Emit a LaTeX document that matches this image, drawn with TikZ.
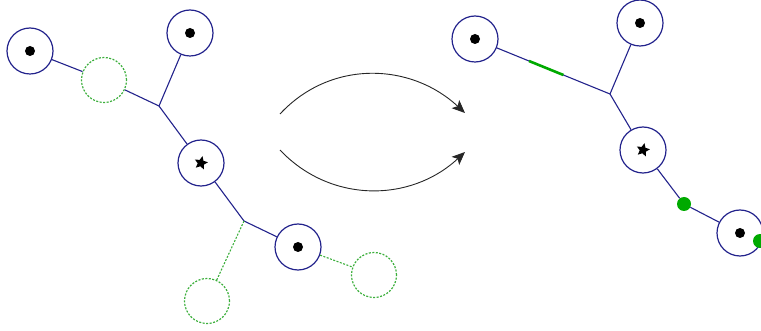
\documentclass[tikz,border=0pt]{standalone}
\usetikzlibrary{shapes.geometric,arrows.meta,calc}
\definecolor{nodeblue}{RGB}{35,35,140}
\definecolor{ghostgreen}{RGB}{60,175,60}
\definecolor{dotgreen}{RGB}{0,170,0}
\begin{document}
\begin{tikzpicture}[x=1pt,y=-1pt,
  vert/.style={circle,draw=nodeblue,line width=1.2pt,minimum size=46pt,inner sep=0pt},
  ghost/.style={circle,draw=ghostgreen,line width=1.2pt,dash pattern=on 2pt off 1.5pt,minimum size=45pt,inner sep=0pt},
  edge/.style={draw=nodeblue,line width=1.1pt},
  ghostedge/.style={draw=ghostgreen,line width=1.1pt,dash pattern=on 2pt off 1.5pt},
  bullet/.style={circle,fill=black,minimum size=10pt,inner sep=0pt},
  starmark/.style={star,star points=5,star point ratio=2.1,fill=black,minimum size=14pt,inner sep=0pt,rotate=-12},
  gdot/.style={circle,fill=dotgreen,minimum size=14pt,inner sep=0pt},
  curvearrow/.style={-{Stealth[length=13pt,width=11pt,inset=3pt]},line width=0.9pt,draw=black!85}
]
\useasboundingbox (0,0) rectangle (761,331);
% left tree
\node[vert] (A) at (30,51) {};
\node[bullet] at (A.center) {};
\node[ghost] (G1) at (104,80) {};
\coordinate (J1) at (159,106);
\node[vert] (B) at (190,33) {};
\node[bullet] at (B.center) {};
\node[vert] (S) at (201,163) {};
\node[starmark] at (S.center) {};
\coordinate (J2) at (244,221);
\node[vert] (C) at (298,247) {};
\node[bullet] at (C.center) {};
\node[ghost] (G2) at (207,301) {};
\node[ghost] (G3) at (374,275) {};
\draw[edge] (A) -- (G1);
\draw[edge] (G1) -- (J1);
\draw[edge] (J1) -- (B);
\draw[edge] (J1) -- (S);
\draw[edge] (S) -- (J2);
\draw[edge] (J2) -- (C);
\draw[ghostedge] (J2) -- (G2);
\draw[ghostedge] (C) -- (G3);
% arrows
\coordinate (P1) at (280,114);
\coordinate (Q1) at (465,113);
\coordinate (P2) at (280,150);
\coordinate (Q2) at (465,152);
\draw[curvearrow] (P1) .. controls (330,60) and (410,62) .. (Q1);
\draw[curvearrow] (P2) .. controls (330,203) and (410,203) .. (Q2);
% right tree
\node[vert] (RA) at (475,39) {};
\node[bullet] at (RA.center) {};
\node[vert] (RB) at (640,23) {};
\node[bullet] at (RB.center) {};
\coordinate (RJ) at (610,94);
\node[vert] (RS) at (643,150) {};
\node[starmark] at (RS.center) {};
\node[gdot] (D1) at (684,204) {};
\node[vert] (RC) at (740,233) {};
\node[bullet] at (RC.center) {};
\draw[edge] (RA) -- (RJ);
\draw[draw=dotgreen,line width=2.6pt] ($(RA)!0.4!(RJ)$) -- ($(RA)!0.655!(RJ)$);
\draw[edge] (RJ) -- (RB);
\draw[edge] (RJ) -- (RS);
\draw[edge] (RS) -- (D1);
\draw[edge] (D1) -- (RC);
\node[gdot] (D2) at (760,241) {};
\end{tikzpicture}
\end{document}
